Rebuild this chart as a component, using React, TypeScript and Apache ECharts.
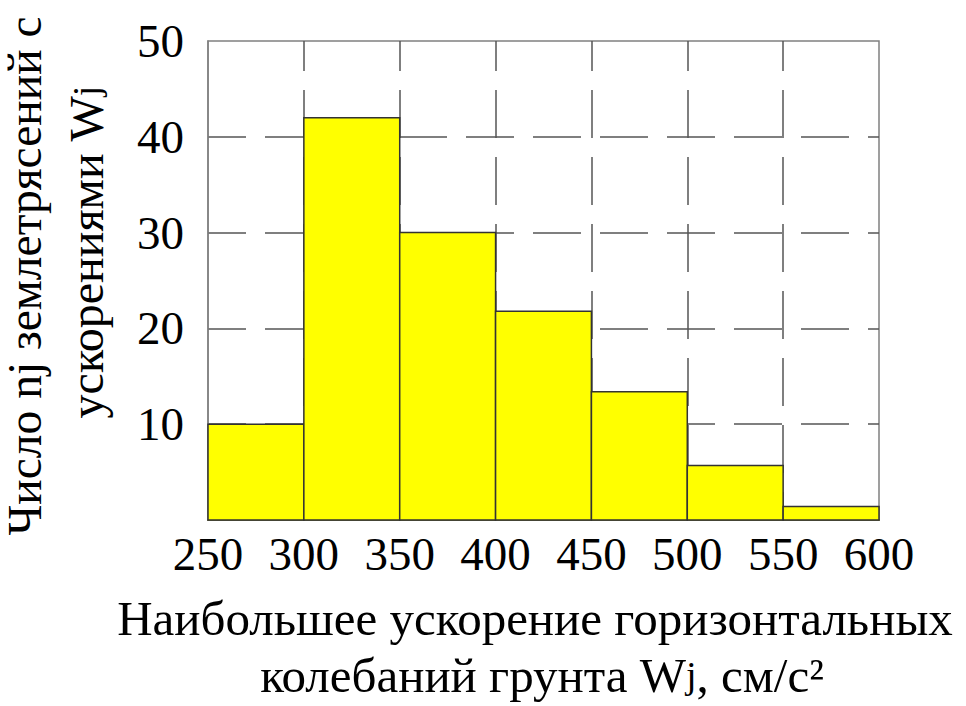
import React, { useEffect, useRef } from 'react';
import * as echarts from 'echarts';

const binStarts = [250, 300, 350, 400, 450, 500, 550];
const binEnds = [300, 350, 400, 450, 500, 550, 600];
const counts = [10, 42, 30, 21.8, 13.4, 5.7, 1.4];
const xTickValues = [250, 300, 350, 400, 450, 500, 550, 600];
const yTickValues = [0, 10, 20, 30, 40, 50];

const yTitleLine1 = 'Число nj землетрясений с';
const yTitleLine2 = 'ускорениями W{s|j}';
const xTitleLine1 = 'Наибольшее ускорение горизонтальных';
const xTitleLine2 = 'колебаний грунта W{s|j}, см/с²';

const FONT = '"Liberation Serif", "Times New Roman", serif';

export default function App() {
  const ref = useRef<HTMLDivElement>(null);
  useEffect(() => {
    if (!ref.current) return;
    const chart = echarts.init(ref.current, null, { renderer: 'svg' });
    const rich = { s: { fontSize: 38, fontFamily: FONT, fill: '#000' } };
    const titleStyle = {
      fontFamily: FONT,
      fontSize: 49,
      fill: '#000',
      align: 'center',
      verticalAlign: 'middle',
      rich,
    };
    chart.setOption({
      animation: false,
      backgroundColor: '#ffffff',
      grid: {
        left: 208,
        top: 41,
        width: 671,
        height: 479,
        show: true,
        borderColor: '#808080',
        borderWidth: 1.5,
        backgroundColor: 'transparent',
      },
      xAxis: {
        type: 'value',
        min: xTickValues[0],
        max: xTickValues[xTickValues.length - 1],
        interval: xTickValues[1] - xTickValues[0],
        axisLine: { show: true, lineStyle: { color: '#7a7a3a', width: 2 } },
        axisTick: { show: false },
        axisLabel: { fontFamily: FONT, fontSize: 47, color: '#000', margin: 10 },
        splitLine: {
          show: true,
          showMinLine: false,
          showMaxLine: false,
          lineStyle: { color: '#555', width: 1.5, type: [48, 19], dashOffset: 18 },
        },
      },
      yAxis: {
        type: 'value',
        min: yTickValues[0],
        max: yTickValues[yTickValues.length - 1],
        interval: yTickValues[1] - yTickValues[0],
        axisLine: { show: true, lineStyle: { color: '#808080', width: 1.5 } },
        axisTick: { show: false },
        axisLabel: { fontFamily: FONT, fontSize: 47, color: '#000', margin: 24, showMinLabel: false },
        splitLine: {
          show: true,
          showMinLine: false,
          showMaxLine: false,
          lineStyle: { color: '#555', width: 1.5, type: [48, 19], dashOffset: 10 },
        },
      },
      series: [
        {
          type: 'custom',
          renderItem: (params: any, api: any) => {
            const x0 = api.value(0);
            const x1 = api.value(1);
            const v = api.value(2);
            const p0 = api.coord([x0, v]);
            const p1 = api.coord([x1, 0]);
            return {
              type: 'rect',
              shape: { x: p0[0], y: p0[1], width: p1[0] - p0[0], height: p1[1] - p0[1] },
              style: { fill: '#ffff00', stroke: '#333333', lineWidth: 1.5 },
            };
          },
          encode: { x: [0, 1], y: 2 },
          data: binStarts.map((s, i) => [s, binEnds[i], counts[i]]),
        },
      ],
      graphic: [
        {
          type: 'text',
          x: 25,
          y: 276,
          rotation: Math.PI / 2,
          style: { ...titleStyle, fontSize: 47.5, lineHeight: 46, text: yTitleLine1 },
        },
        { type: 'text', x: 86, y: 252, rotation: Math.PI / 2, style: { ...titleStyle, fontSize: 48, text: yTitleLine2 } },
        { type: 'text', x: 535, y: 618, style: { ...titleStyle, text: xTitleLine1 } },
        { type: 'text', x: 542, y: 675, style: { ...titleStyle, text: xTitleLine2 } },
      ],
    });
    return () => chart.dispose();
  }, []);
  return (
    <div
      ref={ref}
      style={{ position: 'fixed', left: 0, top: 0, width: 966, height: 706, background: '#fff' }}
    />
  );
}
